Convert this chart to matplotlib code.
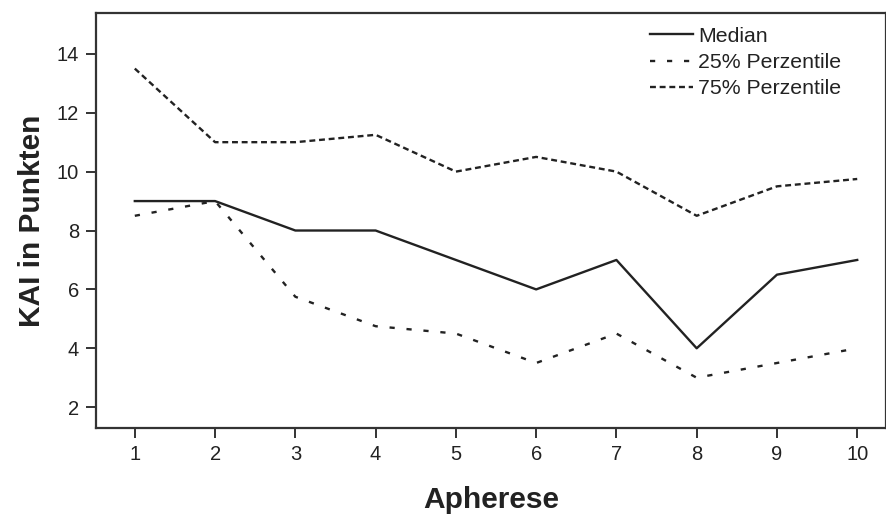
import matplotlib
matplotlib.use("Agg")
import matplotlib.pyplot as plt

apherese = [1, 2, 3, 4, 5, 6, 7, 8, 9, 10]
median = [9, 9, 8, 8, 7, 6, 7, 4, 6.5, 7]
p25 = [8.5, 9, 5.75, 4.75, 4.5, 3.5, 4.5, 3, 3.5, 4]
p75 = [13.5, 11, 11, 11.25, 10, 10.5, 10, 8.5, 9.5, 9.75]
yticks = [2, 4, 6, 8, 10, 12, 14]

plt.rcParams['font.family'] = ['Liberation Sans', 'DejaVu Sans']
fig = plt.figure(figsize=(8.87, 5.17), dpi=100)
ax = fig.add_axes([0.108, 0.172, 0.891, 0.803])

col = '#222222'
ax.plot(apherese, median, color=col, lw=1.7, ls='-', label='Median')
ax.plot(apherese, p25, color=col, lw=1.7, ls=(0, (2.2, 5)), label='25% Perzentile')
ax.plot(apherese, p75, color=col, lw=1.7, ls=(0, (2.5, 1.6)), label='75% Perzentile')

ax.set_xlim(0.514, 10.36)
ax.set_ylim(1.29, 15.39)
ax.set_xticks(apherese)
ax.set_yticks(yticks)
for s in ax.spines.values():
    s.set_color('#333333')
    s.set_linewidth(1.6)
ax.tick_params(direction='out', length=7, width=1.4, color='#333333',
               labelsize=14.5, labelcolor=col, pad=5)
ax.set_xlabel('Apherese', fontsize=21.5, fontweight='bold', color=col, labelpad=16)
ax.set_ylabel('KAI in Punkten', fontsize=21.5, fontweight='bold', color=col, labelpad=8)

leg = ax.legend(loc='upper left', bbox_to_anchor=(0.684, 1.0), frameon=False,
                fontsize=15.3, handlelength=2.0, handletextpad=0.25, labelspacing=0.34,
                labelcolor=col, borderaxespad=0.25)

fig.savefig('out.png', dpi=100)
